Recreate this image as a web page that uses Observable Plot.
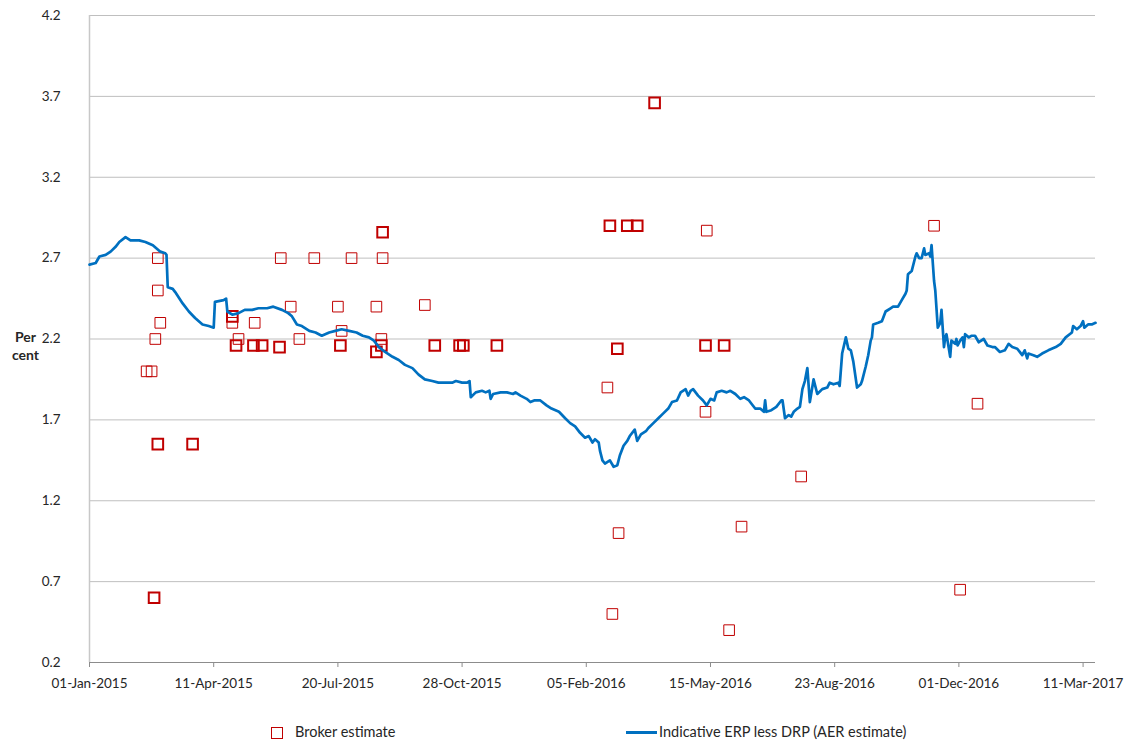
<!DOCTYPE html>
<html>
<head>
<meta charset="utf-8">
<script src="https://cdn.jsdelivr.net/npm/d3@7"></script>
<script src="https://cdn.jsdelivr.net/npm/@observablehq/plot@0.6"></script>
<style>
  html, body { margin: 0; padding: 0; background: #fff; }
  body { width: 1133px; height: 742px; position: relative; font-family: Lato, "Liberation Sans", sans-serif; overflow: hidden; }
  #chart { position: absolute; left: 0; top: 0; }
  .leg { position: absolute; font-size: 14.5px; line-height: 18px; color: #262626; white-space: nowrap; }
  .sq { position: absolute; width: 10px; height: 10px; border: 1px solid #C00000; }
  .ln { position: absolute; width: 31px; height: 3px; background: #0070C0; }
</style>
</head>
<body>
<div id="chart"></div>
<div class="sq" style="left:271px; top:727px;"></div>
<div class="leg" style="left:295px; top:723px;">Broker estimate</div>
<div class="ln" style="left:626px; top:731px;"></div>
<div class="leg" style="left:659px; top:723px;">Indicative ERP less DRP (AER estimate)</div>
<script>
// ---- Data ----
const xTickDates = ["2015-01-01","2015-04-11","2015-07-20","2015-10-28","2016-02-05","2016-05-15","2016-08-23","2016-12-01","2017-03-11"];
const yTickValues = [0.2, 0.7, 1.2, 1.7, 2.2, 2.7, 3.2, 3.7, 4.2];
const xDomain = ["2015-01-01", "2017-03-21"];

// Broker estimates (repeated entries = several brokers at same point)
const brokerDates = [
  "2015-02-16","2015-02-20","2015-02-22","2015-02-22","2015-02-23","2015-02-25","2015-02-25","2015-02-25","2015-02-25","2015-02-27",
  "2015-03-25","2015-03-25","2015-04-26","2015-04-26","2015-04-26","2015-04-29","2015-04-29","2015-05-01","2015-05-13","2015-05-13",
  "2015-05-14","2015-05-20","2015-05-20","2015-06-03","2015-06-03","2015-06-04","2015-06-12","2015-06-19","2015-07-01","2015-07-20",
  "2015-07-22","2015-07-22","2015-07-23","2015-07-31","2015-08-20","2015-08-20","2015-08-20","2015-08-24","2015-08-24","2015-08-24",
  "2015-08-25","2015-08-25","2015-08-25","2015-09-28","2015-10-06","2015-10-06","2015-10-26","2015-10-26","2015-10-29","2015-10-29",
  "2015-11-25","2015-11-25",
  "2016-02-22","2016-02-24","2016-02-24","2016-02-26","2016-03-01","2016-03-01","2016-03-02","2016-03-09","2016-03-09","2016-03-17",
  "2016-03-17","2016-03-31","2016-03-31","2016-05-11","2016-05-11","2016-05-11","2016-05-12","2016-05-26","2016-05-26","2016-05-30",
  "2016-06-09","2016-07-27","2016-11-11","2016-12-02","2016-12-16"
];
const brokerValues = [
  2.0, 2.0, 0.6, 0.6, 2.2, 2.5, 1.55, 1.55, 2.7, 2.3,
  1.55, 1.55, 2.34, 2.34, 2.3, 2.16, 2.16, 2.2, 2.16, 2.16,
  2.3, 2.16, 2.16, 2.15, 2.15, 2.7, 2.4, 2.2, 2.7, 2.4,
  2.16, 2.16, 2.25, 2.7, 2.12, 2.12, 2.4, 2.16, 2.16, 2.2,
  2.7, 2.86, 2.86, 2.41, 2.16, 2.16, 2.16, 2.16, 2.16, 2.16,
  2.16, 2.16,
  1.9, 2.9, 2.9, 0.5, 2.14, 2.14, 1.0, 2.9, 2.9, 2.9,
  2.9, 3.66, 3.66, 1.75, 2.16, 2.16, 2.87, 2.16, 2.16, 0.4,
  1.04, 1.35, 2.9, 0.65, 1.8
];

// Indicative ERP less DRP (AER estimate)
const erpDates = [
  "2015-01-01","2015-01-06","2015-01-09","2015-01-14","2015-01-18","2015-01-22","2015-01-25","2015-01-30","2015-02-03","2015-02-10",
  "2015-02-15","2015-02-21","2015-02-27","2015-03-03","2015-03-04","2015-03-05","2015-03-09","2015-03-11","2015-03-17","2015-03-22",
  "2015-03-27","2015-04-02","2015-04-07","2015-04-11","2015-04-12","2015-04-19","2015-04-21","2015-04-22","2015-04-26","2015-05-01",
  "2015-05-06","2015-05-12","2015-05-17","2015-05-24","2015-05-29","2015-06-05","2015-06-10","2015-06-13","2015-06-17","2015-06-21",
  "2015-06-27","2015-07-02","2015-07-07","2015-07-13","2015-07-18","2015-07-23","2015-07-29","2015-08-04","2015-08-09","2015-08-14",
  "2015-08-18","2015-08-22","2015-08-27","2015-09-02","2015-09-07","2015-09-12","2015-09-18","2015-09-23","2015-09-28","2015-10-04",
  "2015-10-09","2015-10-15","2015-10-20","2015-10-23","2015-10-28","2015-11-01","2015-11-03","2015-11-04","2015-11-08","2015-11-13",
  "2015-11-16","2015-11-19","2015-11-20","2015-11-22","2015-11-28","2015-12-03","2015-12-08","2015-12-10","2015-12-14","2015-12-19",
  "2015-12-22","2015-12-25","2015-12-30","2016-01-04","2016-01-08","2016-01-14","2016-01-19","2016-01-23","2016-01-27","2016-01-31",
  "2016-02-04","2016-02-07","2016-02-10","2016-02-12","2016-02-15","2016-02-16","2016-02-18","2016-02-20","2016-02-24","2016-02-27",
  "2016-03-01","2016-03-03","2016-03-06","2016-03-09","2016-03-11","2016-03-15","2016-03-17","2016-03-20","2016-03-24","2016-03-26",
  "2016-03-30","2016-04-03","2016-04-07","2016-04-11","2016-04-14","2016-04-18","2016-04-21","2016-04-25","2016-04-27","2016-04-29",
  "2016-05-01","2016-05-05","2016-05-09","2016-05-12","2016-05-15","2016-05-18","2016-05-20","2016-05-24","2016-05-28","2016-05-31",
  "2016-06-04","2016-06-08","2016-06-11","2016-06-15","2016-06-17","2016-06-20","2016-06-24","2016-06-27","2016-06-28","2016-06-29",
  "2016-07-03","2016-07-07","2016-07-11","2016-07-12","2016-07-14","2016-07-17","2016-07-19","2016-07-21","2016-07-24","2016-07-26",
  "2016-07-28","2016-07-30","2016-08-01","2016-08-03","2016-08-06","2016-08-09","2016-08-13","2016-08-17","2016-08-19","2016-08-22",
  "2016-08-26","2016-08-27","2016-08-29","2016-09-01","2016-09-03","2016-09-05","2016-09-07","2016-09-10","2016-09-13","2016-09-14",
  "2016-09-17","2016-09-19","2016-09-21","2016-09-22","2016-09-23","2016-09-27","2016-09-30","2016-10-03","2016-10-07","2016-10-09",
  "2016-10-13","2016-10-16","2016-10-19","2016-10-20","2016-10-21","2016-10-24","2016-10-27","2016-10-28","2016-10-30","2016-11-01",
  "2016-11-03","2016-11-04","2016-11-07","2016-11-08","2016-11-09","2016-11-11","2016-11-12","2016-11-14","2016-11-16","2016-11-17",
  "2016-11-19","2016-11-20","2016-11-21","2016-11-24","2016-11-25","2016-11-28","2016-11-29","2016-11-30","2016-12-02","2016-12-04",
  "2016-12-05","2016-12-06","2016-12-09","2016-12-11","2016-12-14","2016-12-17","2016-12-21","2016-12-24","2016-12-28","2016-12-30",
  "2017-01-03","2017-01-07","2017-01-10","2017-01-13","2017-01-17","2017-01-19","2017-01-21","2017-01-23","2017-01-25","2017-01-26",
  "2017-01-30","2017-02-02","2017-02-06","2017-02-11","2017-02-17","2017-02-21","2017-02-25","2017-03-02","2017-03-03","2017-03-06",
  "2017-03-09","2017-03-11","2017-03-12","2017-03-15","2017-03-18","2017-03-21"
];
const erpValues = [
  2.66, 2.67, 2.71, 2.72, 2.74, 2.77, 2.80, 2.83, 2.81, 2.81,
  2.80, 2.78, 2.74, 2.73, 2.72, 2.52, 2.51, 2.49, 2.42, 2.37,
  2.33, 2.29, 2.28, 2.27, 2.43, 2.44, 2.45, 2.37, 2.35, 2.36,
  2.38, 2.38, 2.39, 2.39, 2.40, 2.38, 2.36, 2.34, 2.29, 2.28,
  2.25, 2.24, 2.22, 2.24, 2.25, 2.26, 2.25, 2.24, 2.22, 2.21,
  2.19, 2.15, 2.12, 2.09, 2.07, 2.04, 2.02, 1.98, 1.95, 1.94,
  1.93, 1.93, 1.93, 1.94, 1.93, 1.93, 1.94, 1.84, 1.87, 1.88,
  1.87, 1.88, 1.83, 1.86, 1.87, 1.87, 1.86, 1.87, 1.85, 1.83,
  1.81, 1.82, 1.82, 1.79, 1.77, 1.75, 1.71, 1.68, 1.66, 1.62,
  1.59, 1.60, 1.56, 1.58, 1.56, 1.51, 1.45, 1.43, 1.45, 1.41,
  1.42, 1.48, 1.54, 1.57, 1.60, 1.64, 1.57, 1.61, 1.63, 1.65,
  1.68, 1.71, 1.74, 1.77, 1.81, 1.82, 1.87, 1.89, 1.85, 1.88,
  1.89, 1.85, 1.82, 1.79, 1.83, 1.82, 1.87, 1.88, 1.87, 1.88,
  1.86, 1.83, 1.84, 1.82, 1.80, 1.77, 1.77, 1.75, 1.82, 1.75,
  1.76, 1.78, 1.82, 1.82, 1.71, 1.73, 1.72, 1.75, 1.77, 1.78,
  1.89, 1.94, 2.02, 1.81, 1.95, 1.86, 1.89, 1.90, 1.93, 1.92,
  1.93, 1.91, 2.11, 2.21, 2.14, 2.13, 2.06, 1.90, 1.92, 1.94,
  2.03, 2.10, 2.19, 2.21, 2.29, 2.30, 2.31, 2.37, 2.39, 2.40,
  2.40, 2.44, 2.48, 2.50, 2.60, 2.62, 2.71, 2.73, 2.70, 2.70,
  2.76, 2.72, 2.73, 2.71, 2.78, 2.56, 2.50, 2.27, 2.30, 2.38,
  2.15, 2.21, 2.23, 2.09, 2.19, 2.17, 2.20, 2.16, 2.19, 2.21,
  2.15, 2.23, 2.21, 2.22, 2.22, 2.18, 2.20, 2.16, 2.15, 2.15,
  2.12, 2.13, 2.17, 2.15, 2.14, 2.12, 2.10, 2.13, 2.08, 2.11,
  2.10, 2.09, 2.11, 2.13, 2.15, 2.17, 2.21, 2.24, 2.28, 2.26,
  2.28, 2.31, 2.27, 2.29, 2.29, 2.30
];

// ---- Build tables ----
const parse = s => new Date(s + "T00:00:00Z");
const brokerRaw = brokerDates.map((d, i) => ({date: parse(d), value: brokerValues[i]}));
const counts = d3.rollup(brokerRaw, v => v.length, d => +d.date + "|" + d.value);
const broker = Array.from(counts, ([k, n]) => {
  const [t, v] = k.split("|");
  return {date: new Date(+t), value: +v, n};
});
const erp = erpDates.map((d, i) => ({date: parse(d), value: erpValues[i]}));
const xTicks = xTickDates.map(parse);

const chart = Plot.plot({
  width: 1133,
  height: 700,
  marginLeft: 89,
  marginRight: 38,
  marginTop: 15,
  marginBottom: 38,
  style: {fontFamily: "Lato, 'Liberation Sans', sans-serif", fontSize: "13px", color: "#262626", background: "#fff"},
  x: {type: "utc", domain: xDomain.map(parse)},
  y: {domain: [0.2, 4.2]},
  marks: [
    Plot.ruleY(yTickValues.slice(1), {stroke: "#BFBFBF", strokeWidth: 1}),
    Plot.ruleX([parse(xDomain[0])], {stroke: "#C8C8C8", strokeWidth: 1.5}),
    Plot.ruleY([0.2], {stroke: "#8C8C8C", strokeWidth: 1}),
    Plot.axisX({ticks: xTicks, tickSize: 5, stroke: "#8C8C8C", tickPadding: 11, tickFormat: d3.utcFormat("%d-%b-%Y"), label: null, fontSize: 13.5}),
    Plot.axisY({ticks: yTickValues, tickSize: 0, tickPadding: 29, tickFormat: d3.format(".1f"), label: null, fontSize: 13.5}),
    Plot.text(["Per\ncent"], {frameAnchor: "left", dx: -64, dy: 6, text: d => d, fontWeight: "bold", fontSize: 14, lineHeight: 1.35, textAnchor: "middle", fill: "#262626"}),
    Plot.dot(broker, {x: "date", y: "value", symbol: "square", r: 6, stroke: "#C00000", fill: "none", strokeWidth: d => d.n > 1 ? 2 : 1}),
    Plot.line(erp, {x: "date", y: "value", stroke: "#0070C0", strokeWidth: 2.7, strokeLinejoin: "round"})
  ]
});
document.getElementById("chart").appendChild(chart);
</script>
</body>
</html>
